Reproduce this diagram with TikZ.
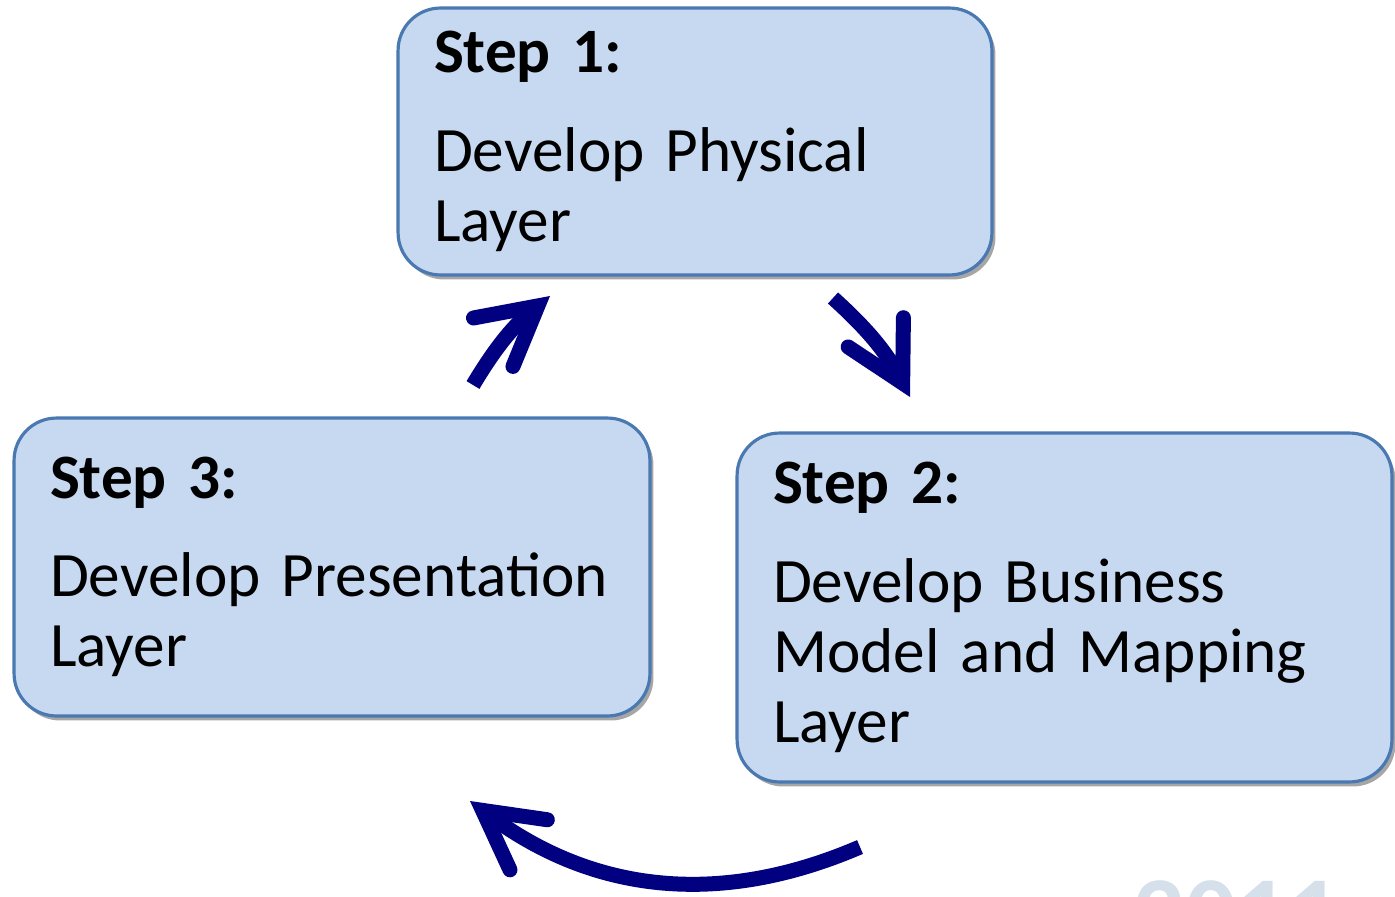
\documentclass[tikz,border=0pt]{standalone}
\usepackage{fontspec}
\setmainfont{Carlito}
\usetikzlibrary{shadows, arrows.meta}
\definecolor{boxfill}{HTML}{C6D9F1}
\definecolor{boxline}{HTML}{4A78B0}
\definecolor{cyclenavy}{HTML}{000080}
\definecolor{markgray}{HTML}{D5E0EA}
\tikzstyle{stepbox} = [rectangle, rounded corners=0.85cm, draw=boxline, line width=1.8pt, fill=boxfill, align=left, inner xsep=0.72cm, inner ysep=0.3cm, font=\fontsize{36}{40}\selectfont, drop shadow={shadow xshift=0.07cm, shadow yshift=-0.09cm, opacity=0.35, fill=black}]
\tikzstyle{cyclearrow} = [cyclenavy, line width=0.3cm, -{Straight Barb[length=1.15cm, width=1.25cm, line cap=round]}]

\begin{document}
\begin{tikzpicture}[x=0.02cm, y=-0.02cm]
\useasboundingbox (0,0) rectangle (1395,896);

%% NODES

\node (step1) [stepbox, text width=10.44cm, minimum height=5.34cm] at (695,141.5) {\textbf{Step 1:}\\[16pt]Develop Physical\\Layer};
\node (step3) [stepbox, text width=11.28cm, minimum height=5.96cm] at (332,567) {\textbf{Step 3:}\\[16pt]Develop Presentation\\Layer};
\node (step2) [stepbox, text width=11.66cm, minimum height=6.98cm] at (1064.5,607.5) {\textbf{Step 2:}\\[16pt]Develop Business\\Model and Mapping\\Layer};
\node (mark) [anchor=base west, inner sep=0, text=markgray, font=\fontsize{58}{58}\selectfont\bfseries] at (1133,947) {2011};

%% ARROWS

\coordinate (s3out) at (473,385);
\coordinate (s1in) at (550,296);
\coordinate (s1out) at (833,298);
\coordinate (s2in) at (910,397);
\coordinate (s2out) at (860,847);
\coordinate (s3in) at (470,801);

\draw [cyclearrow] (s3out) to[bend left=10] (s1in);
\draw [cyclearrow] (s1out) to[bend left=10] (s2in);
\draw [cyclearrow] (s2out) to[bend left=30] (s3in);

\end{tikzpicture}
\end{document}
